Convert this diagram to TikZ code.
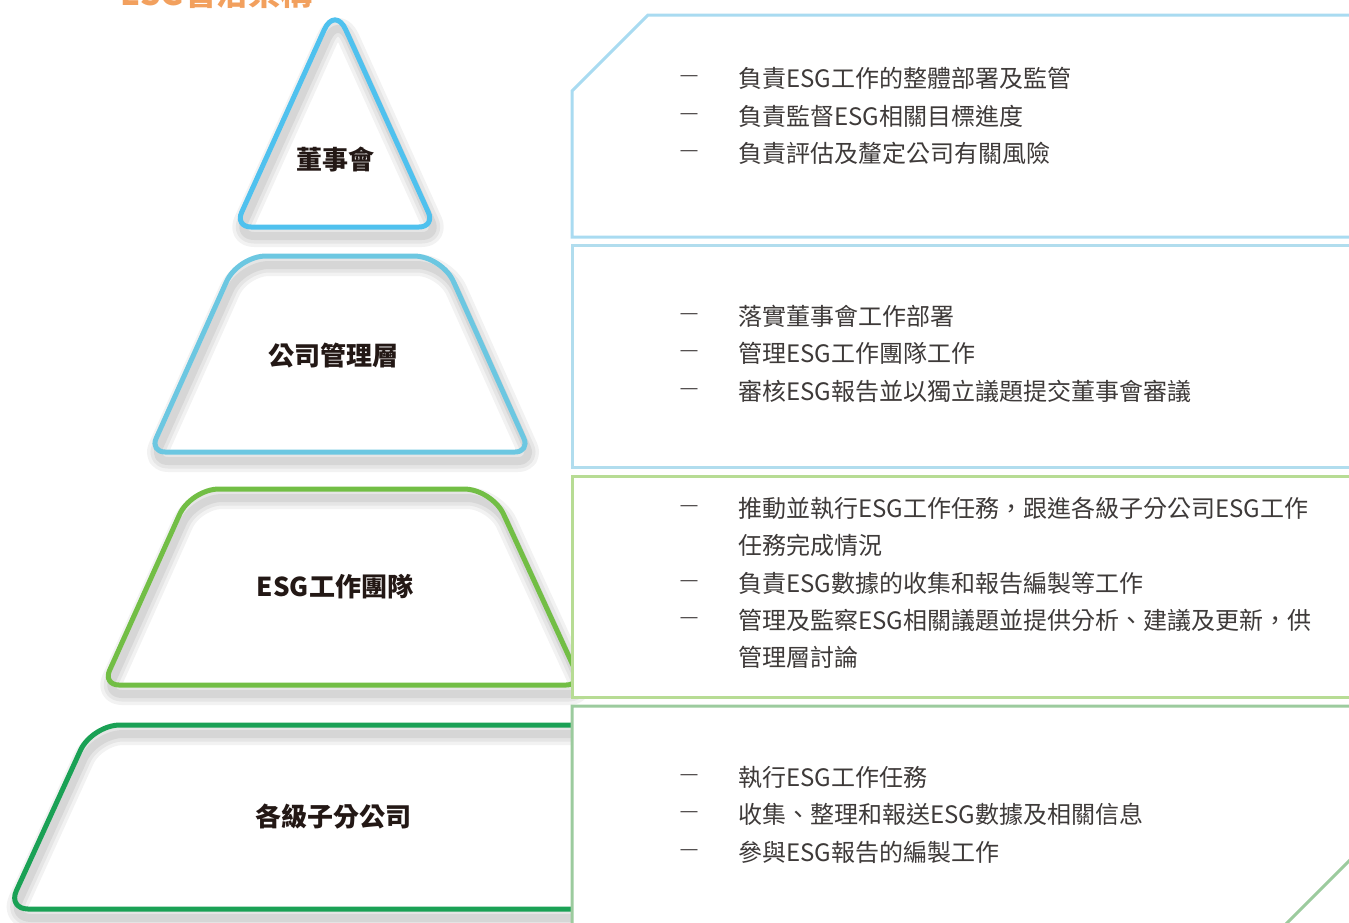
\documentclass[tikz,border=0pt]{standalone}
\usepackage{fontspec}
\setmainfont{Noto Sans CJK TC}
\newfontfamily\dashfont{Liberation Sans}
\definecolor{triC}{HTML}{4FC1EE}
\definecolor{mgmtC}{HTML}{6CC7E1}
\definecolor{teamC}{HTML}{72BE45}
\definecolor{subC}{HTML}{1AA155}
\definecolor{pnlA}{HTML}{A9DBF1}
\definecolor{pnlB}{HTML}{B1DDEE}
\definecolor{pnlC}{HTML}{B7DC94}
\definecolor{pnlD}{HTML}{9CCB9E}
\definecolor{textC}{HTML}{3E3A39}
\definecolor{labelC}{HTML}{231815}
\definecolor{titleC}{HTML}{F2A05E}
\newcommand{\softshadow}[1]{%
  \begin{scope}[shift={(3,9)}]
    \draw[black, opacity=0.05, line width=22pt, line join=round] #1;
    \draw[black, opacity=0.055, line width=15pt, line join=round] #1;
    \draw[black, opacity=0.065, line width=8pt, line join=round] #1;
  \end{scope}}
\begin{document}
\begin{tikzpicture}[x=1pt,y=-1pt,
  lbl/.style={font=\fontsize{26}{30}\selectfont\bfseries, text=labelC, inner sep=0pt},
  item/.style={anchor=west, font=\fontsize{24}{28}\selectfont, text=textC, inner sep=0pt},
  dashmark/.style={font=\dashfont\fontsize{17}{17}\selectfont, text=textC, inner sep=0pt},
  shp/.style={line width=5pt, line join=round},
  pnl/.style={line width=3pt, fill=white, line join=miter}]
\useasboundingbox (0,0) rectangle (1349,922);

% title (cut off at the top, as in the reference)
\node[anchor=base west, inner sep=0pt, text=titleC, font=\fontsize{32}{36}\selectfont\bfseries] (title) at (120,5) {ESG管治架構};

% shapes
\def\pathA{[rounded corners=16pt] (235,227) [rounded corners=26pt] -- (335,6) [rounded corners=16pt] -- (435,227) -- cycle}
\def\pathB{[rounded corners=28pt] (238,256) [rounded corners=15pt] -- (150,452) -- (530,452) [rounded corners=28pt] -- (442,256) -- cycle}
\def\pathC{[rounded corners=28pt] (191,489) [rounded corners=16pt] -- (103,685) -- (582,685) [rounded corners=28pt] -- (492,489) -- cycle}
\def\pathD{[rounded corners=28pt] (92,725) [rounded corners=20pt] -- (8,909) -- (700,909) [rounded corners=28pt] -- (620,725) -- cycle}

\softshadow{\pathA}
\softshadow{\pathB}
\softshadow{\pathC}
\softshadow{\pathD}
\draw[shp, draw=triC] \pathA;
\draw[shp, draw=mgmtC] \pathB;
\draw[shp, draw=teamC] \pathC;
\draw[shp, draw=subC] \pathD;

% panels
\draw[pnl, draw=pnlA] (1360,15) -- (648,15) -- (572,91) -- (572,237) -- (1360,237);
\draw[pnl, draw=pnlB] (1360,245) -- (572,245) -- (572,467) -- (1360,467);
\draw[pnl, draw=pnlC] (1360,476) -- (572,476) -- (572,697) -- (1360,697);
\draw[pnl, draw=pnlD] (1360,706) -- (572,706) -- (572,940) -- (1270,940) -- (1360,850);

% labels
\node[lbl] (board) at (335,160) {董事會};
\node[lbl] (mgmt) at (333,356) {公司管理層};
\node[lbl] (team) at (335,587) {ESG工作團隊};
\node[lbl] (subs) at (333,817) {各級子分公司};

% panel 1
\node[dashmark] (d11) at (689,78) {—};
\node[dashmark] (d12) at (689,116) {—};
\node[dashmark] (d13) at (689,153) {—};
\node[item] (t11) at (738,78) {負責ESG工作的整體部署及監管};
\node[item] (t12) at (738,116) {負責監督ESG相關目標進度};
\node[item] (t13) at (738,153) {負責評估及釐定公司有關風險};

% panel 2
\node[dashmark] (d21) at (689,316) {—};
\node[dashmark] (d22) at (689,353) {—};
\node[dashmark] (d23) at (689,391) {—};
\node[item] (t21) at (738,316) {落實董事會工作部署};
\node[item] (t22) at (738,353) {管理ESG工作團隊工作};
\node[item] (t23) at (738,391) {審核ESG報告並以獨立議題提交董事會審議};

% panel 3
\node[dashmark] (d31) at (689,508) {—};
\node[dashmark] (d32) at (689,583) {—};
\node[dashmark] (d33) at (689,620) {—};
\node[item] (t31) at (738,508) {推動並執行ESG工作任務，跟進各級子分公司ESG工作};
\node[item] (t31b) at (738,545) {任務完成情況};
\node[item] (t32) at (738,583) {負責ESG數據的收集和報告編製等工作};
\node[item] (t33) at (738,620) {管理及監察ESG相關議題並提供分析、建議及更新，供};
\node[item] (t33b) at (738,657) {管理層討論};

% panel 4
\node[dashmark] (d41) at (689,777) {—};
\node[dashmark] (d42) at (689,814) {—};
\node[dashmark] (d43) at (689,852) {—};
\node[item] (t41) at (738,777) {執行ESG工作任務};
\node[item] (t42) at (738,814) {收集、整理和報送ESG數據及相關信息};
\node[item] (t43) at (738,852) {參與ESG報告的編製工作};
\end{tikzpicture}
\end{document}
